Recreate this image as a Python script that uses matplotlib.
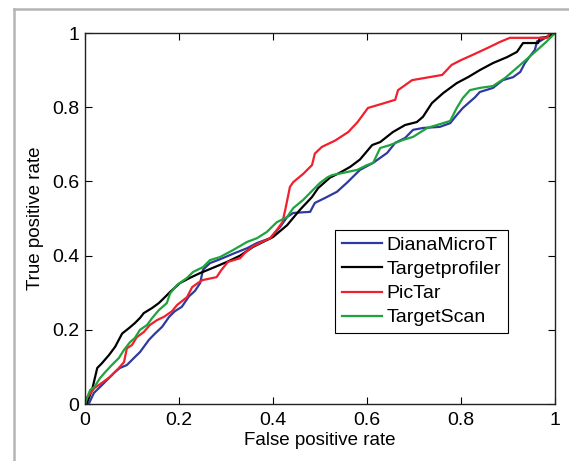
import matplotlib
matplotlib.use("Agg")
import matplotlib.pyplot as plt
from matplotlib.lines import Line2D

plt.rcParams['font.family'] = ['Liberation Sans', 'DejaVu Sans']

labels = ["DianaMicroT", "Targetprofiler", "PicTar", "TargetScan"]
colors = ["#2e3a9e", "#000000", "#f0202c", "#1fa33c"]

# DianaMicroT
blue_x = [0, 0.009, 0.019, 0.032, 0.047, 0.062, 0.074, 0.089, 0.104, 0.117, 0.136, 0.149,
          0.164, 0.179, 0.191, 0.206, 0.221, 0.234, 0.245, 0.251, 0.266, 0.287, 0.315, 0.345,
          0.366, 0.394, 0.415, 0.43, 0.443, 0.479, 0.489, 0.51, 0.536, 0.557, 0.585, 0.613,
          0.643, 0.66, 0.681, 0.698, 0.719, 0.755, 0.777, 0.791, 0.804, 0.83, 0.84, 0.868,
          0.889, 0.911, 0.926, 0.936, 0.947, 0.957, 0.962, 0.968, 0.972, 0.989, 1.0]
blue_y = [0, 0.003, 0.03, 0.046, 0.065, 0.084, 0.097, 0.105, 0.124, 0.14, 0.173, 0.19,
          0.208, 0.235, 0.25, 0.262, 0.29, 0.305, 0.326, 0.362, 0.38, 0.39, 0.405, 0.42,
          0.434, 0.447, 0.477, 0.504, 0.515, 0.518, 0.542, 0.555, 0.572, 0.596, 0.631, 0.65,
          0.677, 0.704, 0.717, 0.739, 0.744, 0.747, 0.757, 0.779, 0.798, 0.827, 0.841, 0.852,
          0.873, 0.881, 0.895, 0.919, 0.938, 0.954, 0.978, 0.978, 0.981, 0.995, 1.0]

# Targetprofiler
black_x = [0, 0.004, 0.015, 0.026, 0.036, 0.051, 0.064, 0.079, 0.094, 0.106, 0.117, 0.125,
           0.143, 0.157, 0.17, 0.181, 0.202, 0.223, 0.245, 0.272, 0.302, 0.33, 0.357, 0.379,
           0.40, 0.43, 0.457, 0.483, 0.496, 0.521, 0.543, 0.564, 0.585, 0.611, 0.628, 0.655,
           0.681, 0.706, 0.719, 0.738, 0.762, 0.791, 0.815, 0.84, 0.868, 0.898, 0.919, 0.932,
           0.964, 0.968, 0.983, 1.0]
black_y = [0, 0.003, 0.038, 0.097, 0.11, 0.132, 0.154, 0.19, 0.205, 0.218, 0.232, 0.245,
           0.259, 0.272, 0.288, 0.302, 0.326, 0.34, 0.353, 0.367, 0.383, 0.40, 0.423, 0.437,
           0.45, 0.482, 0.523, 0.558, 0.582, 0.61, 0.624, 0.639, 0.659, 0.698, 0.706, 0.733,
           0.752, 0.76, 0.774, 0.811, 0.838, 0.865, 0.881, 0.90, 0.919, 0.935, 0.949, 0.973,
           0.973, 0.987, 0.989, 1.0]

# PicTar
red_x = [0, 0.004, 0.02, 0.036, 0.053, 0.072, 0.083, 0.089, 0.10, 0.11, 0.125, 0.138,
         0.153, 0.168, 0.185, 0.196, 0.217, 0.228, 0.24, 0.25, 0.28, 0.29, 0.304, 0.33,
         0.34, 0.355, 0.372, 0.394, 0.408, 0.42, 0.426, 0.436, 0.443, 0.464, 0.483, 0.489,
         0.504, 0.532, 0.56, 0.58, 0.602, 0.634, 0.66, 0.666, 0.696, 0.728, 0.76, 0.78,
         0.80, 0.823, 0.857, 0.883, 0.904, 0.983, 0.989, 1.0]
red_y = [0, 0.016, 0.043, 0.057, 0.073, 0.097, 0.113, 0.15, 0.159, 0.18, 0.194, 0.213,
         0.226, 0.235, 0.25, 0.267, 0.288, 0.315, 0.326, 0.334, 0.342, 0.361, 0.383, 0.393,
         0.407, 0.423, 0.434, 0.447, 0.469, 0.49, 0.523, 0.585, 0.598, 0.62, 0.644, 0.675,
         0.693, 0.71, 0.733, 0.76, 0.798, 0.81, 0.82, 0.846, 0.873, 0.88, 0.887, 0.914,
         0.927, 0.94, 0.96, 0.976, 0.987, 0.987, 1.0, 1.0]

# TargetScan
green_x = [0, 0.004, 0.011, 0.02, 0.032, 0.043, 0.057, 0.072, 0.083, 0.096, 0.106, 0.117,
           0.132, 0.143, 0.157, 0.174, 0.181, 0.196, 0.217, 0.23, 0.251, 0.266, 0.287, 0.315,
           0.345, 0.366, 0.387, 0.408, 0.43, 0.443, 0.464, 0.485, 0.50, 0.517, 0.526, 0.549,
           0.579, 0.60, 0.613, 0.628, 0.649, 0.677, 0.698, 0.728, 0.749, 0.777, 0.791, 0.804,
           0.819, 0.84, 0.868, 0.894, 0.926, 0.943, 0.962, 0.983, 1.0]
green_y = [0, 0.016, 0.038, 0.046, 0.07, 0.086, 0.105, 0.124, 0.146, 0.167, 0.178, 0.2,
           0.213, 0.232, 0.253, 0.272, 0.298, 0.321, 0.34, 0.356, 0.369, 0.388, 0.396, 0.415,
           0.437, 0.447, 0.464, 0.49, 0.504, 0.528, 0.55, 0.577, 0.596, 0.612, 0.617, 0.623,
           0.631, 0.644, 0.65, 0.69, 0.698, 0.712, 0.72, 0.744, 0.752, 0.763, 0.798, 0.825,
           0.846, 0.852, 0.857, 0.879, 0.914, 0.933, 0.954, 0.978, 1.0]

fig = plt.figure(figsize=(5.69, 4.61), dpi=100)
ax = fig.add_axes([0.1494, 0.1236, 0.826, 0.8048])

series = [(blue_x, blue_y), (black_x, black_y), (red_x, red_y), (green_x, green_y)]
for (xs, ys), lab, col in zip(series, labels, colors):
    ax.plot(xs, ys, color=col, lw=1.6, label=lab)

ticks = [0, 0.2, 0.4, 0.6, 0.8, 1]
ticklabels = ["0", "0.2", "0.4", "0.6", "0.8", "1"]
ax.set_xlim(0, 1)
ax.set_ylim(0, 1)
ax.set_xticks(ticks)
ax.set_xticklabels(ticklabels)
ax.set_yticks(ticks)
ax.set_yticklabels(ticklabels)
ax.tick_params(direction='in', top=True, right=True, labelsize=14, length=5, width=0.8)
ax.tick_params(axis='x', pad=6)
ax.tick_params(axis='y', pad=4)
for s in ax.spines.values():
    s.set_linewidth(1.0)
    s.set_color('#222222')

ax.set_xlabel("False positive rate", fontsize=13.5, labelpad=2)
ax.set_ylabel("True positive rate", fontsize=13.5, labelpad=6)

leg = ax.legend(loc='lower left', bbox_to_anchor=(0.532, 0.191, 0.368, 0.278), mode='expand',
                fontsize=14, handlelength=2.05, handletextpad=0.25, labelspacing=0.33,
                borderpad=0.35, fancybox=False, framealpha=1, borderaxespad=0)
leg.get_frame().set_edgecolor('black')
leg.get_frame().set_linewidth(0.8)

# light grey frame at the top and left of the picture
fig.add_artist(Line2D([14 / 569, 14 / 569], [0, 1 - 9 / 461], color='#b5b5b5', lw=1.8))
fig.add_artist(Line2D([14 / 569, 1], [1 - 9 / 461, 1 - 9 / 461], color='#b5b5b5', lw=1.8))

fig.savefig("out.png", dpi=100)
